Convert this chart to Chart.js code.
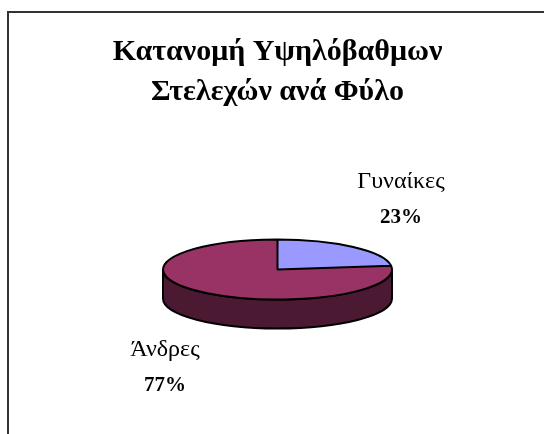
<!DOCTYPE html>
<html lang="el">
<head>
<meta charset="utf-8">
<title>Κατανομή Υψηλόβαθμων Στελεχών ανά Φύλο</title>
<script src="https://cdn.jsdelivr.net/npm/chart.js@4/dist/chart.umd.js"></script>
<style>
    html, body { margin: 0; padding: 0; background: #fff; }
    #wrap { position: relative; width: 544px; height: 434px; overflow: hidden; }
    #frame { position: absolute; left: 7px; top: 11px; right: 0; bottom: 0; border-left: 2px solid #333; border-top: 2px solid #333; }
    canvas { position: absolute; left: 0; top: 0; }
</style>
</head>
<body>
<div id="wrap">
    <div id="frame"></div>
    <canvas id="pieChart" width="544" height="434"></canvas>
</div>
<script>
const categories = ['Γυναίκες', 'Άνδρες'];
const shares = [23, 77];
const topColors = ['#9999FF', '#993366'];
const sideColors = ['#4C4C80', '#4C1933'];
const titleLines = ['Κατανομή Υψηλόβαθμων', 'Στελεχών ανά Φύλο'];

const serif = "'Liberation Serif', serif";
const tilt = 0.262;      // squash of the pie's vertical axis
const depth = 29;        // height of the side wall

// Where each label block is centred, same order as categories
const labelAnchors = [{ x: 401, y: 182 }, { x: 165, y: 350 }];

// Squashes the pie into an ellipse and adds the side wall and outlines
const pie3d = {
    id: 'pie3d',
    beforeDatasetsDraw(chart) {
        const ctx = chart.ctx;
        const arcs = chart.getDatasetMeta(0).data;
        const { x, y, outerRadius } = arcs[0];
        const ry = outerRadius * tilt;

        ctx.save();
        ctx.lineWidth = 2;
        ctx.strokeStyle = '#000';
        ctx.lineJoin = 'round';
        arcs.forEach((arc, i) => {
            // only the part facing the viewer (0..PI on the canvas) has a wall
            const from = Math.max(arc.startAngle, 0);
            const to = Math.min(arc.endAngle, Math.PI);
            if (to <= from) return;
            ctx.beginPath();
            ctx.ellipse(x, y, outerRadius, ry, 0, from, to);
            ctx.ellipse(x, y + depth, outerRadius, ry, 0, to, from, true);
            ctx.closePath();
            ctx.fillStyle = sideColors[i];
            ctx.fill();
            ctx.stroke();
        });
        ctx.restore();

        ctx.save();
        ctx.translate(x, y);
        ctx.scale(1, tilt);
        ctx.translate(-x, -y);
    },
    afterDatasetsDraw(chart) {
        const ctx = chart.ctx;
        const arcs = chart.getDatasetMeta(0).data;
        const { x, y, outerRadius } = arcs[0];

        // build the outlines in squashed space, stroke them with an even pen
        ctx.beginPath();
        arcs.forEach(arc => {
            ctx.moveTo(x, y);
            ctx.arc(x, y, outerRadius, arc.startAngle, arc.endAngle);
            ctx.closePath();
        });
        ctx.restore();

        ctx.save();
        ctx.lineWidth = 2;
        ctx.strokeStyle = '#000';
        ctx.lineJoin = 'round';
        ctx.stroke();
        ctx.restore();
    },
    afterDraw(chart) {
        const ctx = chart.ctx;
        ctx.save();
        ctx.fillStyle = '#000';
        ctx.textAlign = 'center';
        ctx.textBaseline = 'middle';
        categories.forEach((name, i) => {
            const a = labelAnchors[i];
            ctx.font = '24px ' + serif;
            ctx.fillText(name, a.x, a.y);
            ctx.font = 'bold 21px ' + serif;
            ctx.fillText(shares[i] + '%', a.x, a.y + 36);
        });
        ctx.restore();
    }
};

new Chart(document.getElementById('pieChart').getContext('2d'), {
    type: 'pie',
    data: {
        labels: categories,
        datasets: [{
            data: shares,
            backgroundColor: topColors,
            borderWidth: 0
        }]
    },
    options: {
        responsive: false,
        animation: false,
        layout: {
            padding: { left: 11, right: 0, top: 0, bottom: 50 }
        },
        plugins: {
            legend: { display: false },
            tooltip: { enabled: false },
            title: {
                display: true,
                text: titleLines,
                color: '#000',
                font: { family: serif, size: 30, weight: 'bold', lineHeight: 40 / 30 },
                padding: { top: 32, bottom: 43 }
            }
        }
    },
    plugins: [pie3d]
});
</script>
</body>
</html>
